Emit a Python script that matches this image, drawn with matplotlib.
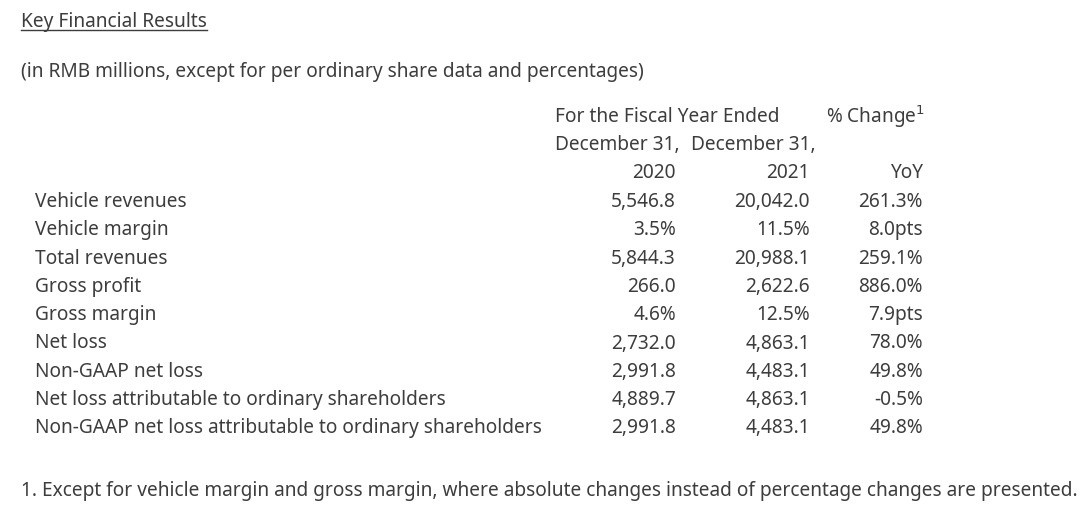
import matplotlib
matplotlib.use("Agg")
import matplotlib.pyplot as plt

# table content
row_labels = [
    "Vehicle revenues",
    "Vehicle margin",
    "Total revenues",
    "Gross profit",
    "Gross margin",
    "Net loss",
    "Non-GAAP net loss",
    "Net loss attributable to ordinary shareholders",
    "Non-GAAP net loss attributable to ordinary shareholders",
]
fy2020 = ["5,546.8", "3.5%", "5,844.3", "266.0", "4.6%", "2,732.0", "2,991.8", "4,889.7", "2,991.8"]
fy2021 = ["20,042.0", "11.5%", "20,988.1", "2,622.6", "12.5%", "4,863.1", "4,483.1", "4,863.1", "4,483.1"]
yoy = ["261.3%", "8.0pts", "259.1%", "886.0%", "7.9pts", "78.0%", "49.8%", "-0.5%", "49.8%"]

title = "Key Financial Results"
subtitle = "(in RMB millions, except for per ordinary share data and percentages)"
footnote = "1. Except for vehicle margin and gross margin, where absolute changes instead of percentage changes are presented."

W, H = 1086, 508
plt.rcParams['font.family'] = ['Noto Sans', 'DejaVu Sans']
color = "#3d3d3d"
fs = 13.75
shift = 2  # small vertical nudge so text centres line up with the reference

fig = plt.figure(figsize=(W / 100, H / 100), dpi=100)
fig.patch.set_facecolor("white")


def put(x, y, s, ha="left", **kw):
    # x, y in pixel coordinates from the top-left corner
    return fig.text(x / W, 1 - (y + shift) / H, s, ha=ha, va="center", color=color,
                    fontsize=kw.pop("fontsize", fs), **kw)


t = put(21, 20, title)
# underline under the title
fig.canvas.draw()
bb = t.get_window_extent()
fig.add_artist(plt.Line2D([bb.x0 / W, bb.x1 / W], [(H - 30) / H, (H - 30) / H],
                          transform=fig.transFigure, color=color, lw=1))

put(21, 70, subtitle)

# header
put(555, 115, "For the Fiscal Year Ended")
put(826, 115, "% Change$^{1}$")
put(555, 143, "December 31,")
put(691, 143, "December 31,")
col_x = [676, 810, 923]
for x, s in zip(col_x, ["2020", "2021", "YoY"]):
    put(x, 171, s, ha="right")

y0, dy = 200, 28.3
for i, lab in enumerate(row_labels):
    y = y0 + i * dy
    put(35, y, lab)
    put(col_x[0], y, fy2020[i], ha="right")
    put(col_x[1], y, fy2021[i], ha="right")
    put(col_x[2], y, yoy[i], ha="right")

put(21, 489, footnote)

fig.savefig("out.png", dpi=100, facecolor="white")
